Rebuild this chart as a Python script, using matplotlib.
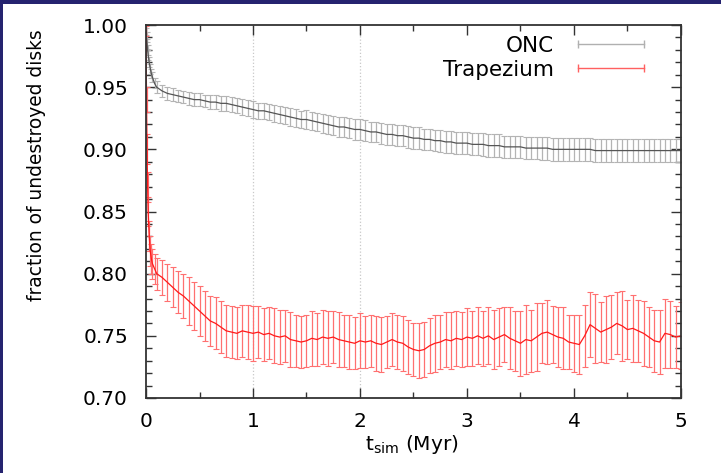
import numpy as np
import matplotlib
matplotlib.use('Agg')
import matplotlib.pyplot as plt
from matplotlib.lines import Line2D
from matplotlib.patches import Rectangle
from matplotlib.ticker import MultipleLocator

# time in Myr: dense sampling right after t=0, then every 0.05 Myr
t_early = [0.0, 0.005, 0.01, 0.015, 0.02, 0.03, 0.04, 0.05, 0.06, 0.08]
t_main = np.round(np.arange(0.10, 5.001, 0.05), 2)
t_sim = np.concatenate([t_early, t_main])

onc_frac = [0.995, 0.990, 0.985, 0.980, 0.976, 0.970, 0.965, 0.961, 0.958, 0.953,
            0.950, 0.947, 0.945, 0.944, 0.943, 0.942, 0.941, 0.940, 0.940, 0.939,
            0.938, 0.938, 0.937, 0.937, 0.936, 0.935, 0.934, 0.933, 0.932, 0.931,
            0.931, 0.930, 0.929, 0.928, 0.927, 0.926, 0.925, 0.924, 0.924, 0.923,
            0.922, 0.921, 0.920, 0.919, 0.918, 0.918, 0.917, 0.916, 0.916, 0.915,
            0.914, 0.914, 0.913, 0.912, 0.912, 0.911, 0.911, 0.910, 0.909, 0.909,
            0.908, 0.908, 0.907, 0.907, 0.906, 0.906, 0.905, 0.905, 0.905, 0.904,
            0.904, 0.904, 0.903, 0.903, 0.903, 0.902, 0.902, 0.902, 0.902, 0.901,
            0.901, 0.901, 0.901, 0.901, 0.900, 0.900, 0.900, 0.900, 0.900, 0.900,
            0.900, 0.900, 0.899, 0.899, 0.899, 0.899, 0.899, 0.899, 0.899, 0.899,
            0.899, 0.899, 0.899, 0.899, 0.899, 0.899, 0.899, 0.899, 0.899]
onc_err = [0.003, 0.004, 0.004, 0.004, 0.004, 0.004, 0.004, 0.004, 0.004, 0.004,
           0.005, 0.005, 0.005, 0.005, 0.005, 0.005, 0.005, 0.005, 0.005, 0.005,
           0.0055, 0.0055, 0.0058, 0.006, 0.006, 0.006, 0.0062, 0.0063, 0.0065, 0.0065,
           0.0066, 0.0067, 0.0068, 0.0069, 0.007, 0.007, 0.0071, 0.0072, 0.0073, 0.0074,
           0.0075, 0.0076, 0.0077, 0.0078, 0.0079, 0.008, 0.008, 0.0081, 0.0082, 0.0082,
           0.0083, 0.0083, 0.0084, 0.0084, 0.0085, 0.0085, 0.0085, 0.0086, 0.0086, 0.0086,
           0.0087, 0.0087, 0.0087, 0.0088, 0.0088, 0.0088, 0.0088, 0.0089, 0.0089, 0.0089,
           0.0089, 0.009, 0.009, 0.009, 0.009, 0.009, 0.009, 0.0091, 0.0091, 0.0091,
           0.0091, 0.0091, 0.0092, 0.0092, 0.0092, 0.0092, 0.0092, 0.0093, 0.0093, 0.0093,
           0.0093, 0.0093, 0.0093, 0.0094, 0.0094, 0.0094, 0.0094, 0.0094, 0.0094, 0.0094,
           0.0095, 0.0095, 0.0095, 0.0095, 0.0095, 0.0095, 0.0095, 0.0095, 0.0095]

trap_frac = [0.995, 0.940, 0.900, 0.870, 0.850, 0.830, 0.818, 0.812, 0.808, 0.804,
             0.800, 0.797, 0.793, 0.789, 0.785, 0.782, 0.778, 0.774, 0.770, 0.766,
             0.762, 0.760, 0.757, 0.754, 0.753, 0.752, 0.754, 0.753, 0.752, 0.753,
             0.751, 0.752, 0.750, 0.749, 0.750, 0.747, 0.746, 0.745, 0.746, 0.748,
             0.747, 0.749, 0.748, 0.749, 0.747, 0.746, 0.745, 0.744, 0.746, 0.745,
             0.746, 0.744, 0.743, 0.745, 0.747, 0.745, 0.744, 0.741, 0.739, 0.738,
             0.739, 0.742, 0.744, 0.745, 0.747, 0.746, 0.748, 0.747, 0.749, 0.748,
             0.750, 0.748, 0.750, 0.747, 0.749, 0.751, 0.748, 0.746, 0.744, 0.747,
             0.746, 0.749, 0.752, 0.753, 0.751, 0.749, 0.748, 0.745, 0.744, 0.743,
             0.750, 0.759, 0.756, 0.753, 0.755, 0.757, 0.760, 0.758, 0.755, 0.756,
             0.754, 0.752, 0.749, 0.746, 0.745, 0.752, 0.751, 0.749, 0.750]
trap_err = [0.004, 0.010, 0.012, 0.012, 0.012, 0.012, 0.012, 0.012, 0.012, 0.012,
            0.013, 0.014, 0.015, 0.016, 0.017, 0.018, 0.019, 0.019, 0.020, 0.020,
            0.020, 0.021, 0.021, 0.021, 0.021, 0.021, 0.021, 0.022, 0.022, 0.021,
            0.021, 0.021, 0.022, 0.022, 0.021, 0.022, 0.021, 0.021, 0.021, 0.022,
            0.021, 0.022, 0.022, 0.021, 0.022, 0.021, 0.022, 0.021, 0.022, 0.021,
            0.021, 0.022, 0.022, 0.021, 0.021, 0.022, 0.022, 0.022, 0.021, 0.022,
            0.022, 0.022, 0.023, 0.022, 0.022, 0.023, 0.022, 0.022, 0.023, 0.022,
            0.023, 0.022, 0.023, 0.024, 0.023, 0.022, 0.025, 0.024, 0.026, 0.028,
            0.025, 0.027, 0.024, 0.026, 0.023, 0.024, 0.025, 0.022, 0.023, 0.024,
            0.025, 0.026, 0.028, 0.024, 0.027, 0.026, 0.025, 0.028, 0.024, 0.027,
            0.025, 0.026, 0.024, 0.025, 0.026, 0.028, 0.027, 0.025, 0.027]

labels = ['ONC', 'Trapezium']

fig = plt.figure(figsize=(7.21, 4.73), dpi=100)
ax = fig.add_axes([0.2025, 0.1586, 0.742, 0.7885])

ax.axvline(1, color='#c8c8c8', ls=':', lw=0.9, zorder=0)
ax.axvline(2, color='#c8c8c8', ls=':', lw=0.9, zorder=0)

ax.errorbar(t_sim, onc_frac, yerr=onc_err, color='#555555', lw=0.9,
            ecolor='#b4b4b4', elinewidth=0.9, capsize=2.2, capthick=0.8)
ax.errorbar(t_sim, trap_frac, yerr=trap_err, color='#ff1a1a', lw=0.9,
            ecolor='#ff7070', elinewidth=0.9, capsize=2.2, capthick=0.8)

ax.set_xlim(0, 5)
ax.set_ylim(0.70, 1.00)
ax.xaxis.set_major_locator(MultipleLocator(1))
ax.xaxis.set_minor_locator(MultipleLocator(0.5))
ax.yaxis.set_major_locator(MultipleLocator(0.05))
ax.yaxis.set_minor_locator(MultipleLocator(0.01))
ax.yaxis.set_major_formatter(plt.FormatStrFormatter('%.2f'))
ax.tick_params(which='both', direction='in', top=True, right=True,
               color='#333333', width=1.0, labelsize=14.5)
ax.tick_params(which='major', length=7)
ax.tick_params(which='minor', length=4)
ax.tick_params(axis='y', pad=13)
ax.tick_params(axis='x', pad=10)
for s in ax.spines.values():
    s.set_linewidth(1.3)
    s.set_color('#333333')

ax.set_xlabel(r'$\mathregular{t_{sim}}$ (Myr)', fontsize=14.5)
ax.xaxis.set_label_coords(0.497, -0.139)
ax.xaxis.label.set_va('baseline')
ax.set_ylabel('fraction of undestroyed disks', fontsize=13.4)
ax.yaxis.set_label_coords(-0.205, 0.625)
ax.yaxis.label.set_va('center')

handles = [Line2D([0, 1], [0, 0], color='#b0b0b0', lw=1.0, marker='|', ms=6, mew=1.0),
           Line2D([0, 1], [0, 0], color='#ff6060', lw=1.0, marker='|', ms=6, mew=1.0)]
ax.legend(handles, labels, loc='upper right', bbox_to_anchor=(0.972, 1.012),
          frameon=False, markerfirst=False, numpoints=2, fontsize=15.5,
          handlelength=3.7, handletextpad=0.8, labelspacing=0.2, borderaxespad=0.3)

# dark blue frame strips on top and left edges
fig.add_artist(Rectangle((0, 1 - 4 / 473), 1, 4 / 473, transform=fig.transFigure,
                         color='#25236f', lw=0))
fig.add_artist(Rectangle((0, 0), 3 / 721, 1, transform=fig.transFigure,
                         color='#25236f', lw=0))

fig.savefig('out.png', dpi=100)
